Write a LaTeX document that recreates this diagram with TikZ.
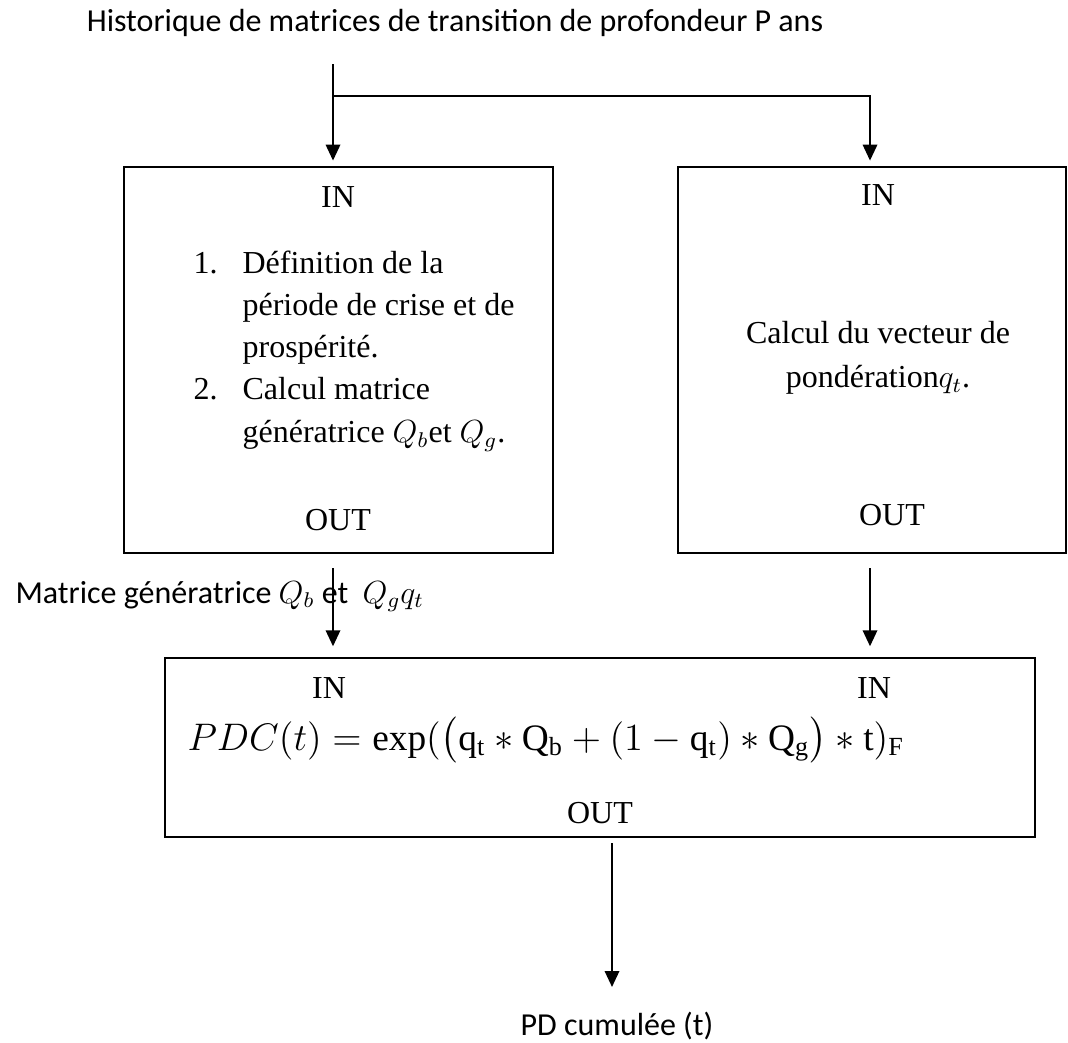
\documentclass[tikz,border=0pt]{standalone}
\usepackage{amsmath}
\usepackage{fontspec}
\setmainfont{Liberation Serif}
\newfontfamily\calibri{Carlito}
\usepackage{tikz}
\usetikzlibrary{arrows.meta}

\begin{document}
\begin{tikzpicture}[x=0.375pt, y=-0.375pt,
        box/.style={draw, line width=0.8pt, inner sep=0pt},
        serif/.style={font=\fontsize{12}{15.87}\selectfont, inner sep=0pt},
        sans/.style={font=\calibri\fontsize{12}{14}\selectfont, inner sep=0pt},
        arr/.style={line width=0.8pt, -{Triangle[length=6pt, width=5.4pt]}}]
            \useasboundingbox (0,0) rectangle (1068,1042);
            % boxes
            \node[box, minimum width=160.9pt,  minimum height=144.75pt] (lbox) at (338.5, 360)   {};
            \node[box, minimum width=145.5pt,  minimum height=144.75pt] (rbox) at (872, 360)     {};
            \node[box, minimum width=326.25pt, minimum height=67.1pt]   (bbox) at (600, 747.5)   {};
            % top input
            \node[sans, anchor=base] (hist) at (455, 32) {Historique de matrices de transition de profondeur P ans};
            \coordinate (src)  at (333, 64);
            \coordinate (fork) at (333, 96);
            \draw[arr, shorten >=2pt] (src) -- (src |- lbox.north);
            \draw[arr, shorten >=2pt] (fork) -| ([xshift=-0.75pt]rbox.north);
            % left box
            \node[serif, anchor=base] (lin)  at (338, 207) {IN};
            \node[serif, anchor=base west] (steps) at (193, 273) {\begin{tabular}[t]{@{}p{18.4pt}@{}l@{}}
                1. & Définition de la\\
                   & période de crise et de\\
                   & prospérité.\\
                2. & Calcul matrice\\
                   & génératrice $Q_b$et $Q_g$.
                \end{tabular}};
            \node[serif, anchor=base] (lout) at (338, 530) {OUT};
            % right box
            \node[serif, anchor=base] (rin)  at (878, 205) {IN};
            \node[serif, anchor=base] (pond) at (878, 343) {\begin{tabular}[t]{@{}c@{}}
                Calcul du vecteur de\\[1pt]
                pondération$q_t$.
                \end{tabular}};
            \node[serif, anchor=base] (rout) at (892, 525) {OUT};
            % bottom box
            \node[sans, anchor=base west] (gen) at (15, 603) {Matrice génératrice $Q_b$ et\ \ $Q_g q_t$};
            \draw[arr, shorten <=5.25pt, shorten >=4pt] (lbox.south -| src) -- (bbox.north -| src);
            \draw[arr, shorten <=5.25pt, shorten >=4pt] ([xshift=-0.75pt]rbox.south) -- ([xshift=-0.75pt]rbox.south |- bbox.north);
            \node[serif, anchor=base] (bin1) at (329, 698) {IN};
            \node[serif, anchor=base] (bin2) at (874, 698) {IN};
            \node[serif, anchor=base west, font=\fontsize{14}{17}\selectfont] (pdc) at (187, 750)
                {$PDC(t) = \exp(\bigl(\mathrm{q_t} * \mathrm{Q_b} + (1 - \mathrm{q_t}) * \mathrm{Q_g}\bigr) * \mathrm{t})_{\mathrm{F}}$};
            \node[serif, anchor=base] (bout) at (600, 823) {OUT};
            % result
            \node[sans, anchor=base] (res) at (617, 1035) {PD cumulée (t)};
            \coordinate (tip) at (612, 987);
            \draw[arr, shorten <=2pt] (bbox.south -| tip) -- (tip);
        \end{tikzpicture}
\end{document}
